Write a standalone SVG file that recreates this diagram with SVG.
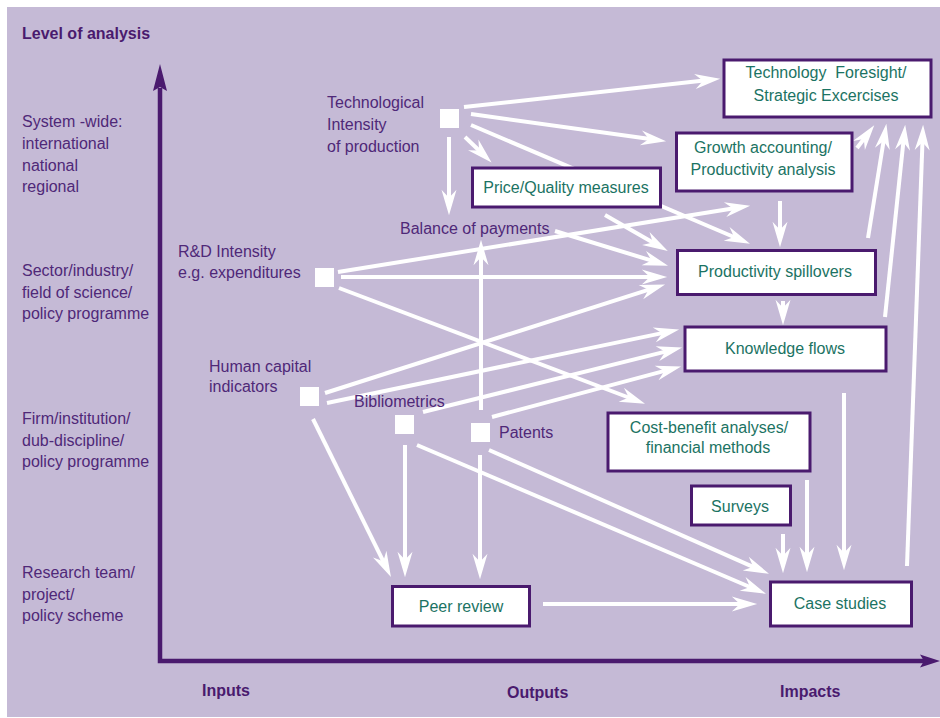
<svg xmlns="http://www.w3.org/2000/svg" width="940" height="718" viewBox="0 0 940 718">
<defs>
<style>
.lbl{font-family:"Liberation Sans",Arial,sans-serif;font-size:16px;fill:#4f2878}
.bold{font-weight:bold;fill:#4a1a6e}
.box rect{fill:#fff;stroke:#4a1a6e;stroke-width:3}
.box text{font-family:"Liberation Sans",Arial,sans-serif;font-size:16px;fill:#1b7363;text-anchor:middle}
.sq{fill:#fff}
.con line{stroke:#fff;stroke-width:4;marker-end:url(#ah)}
</style>
<marker id="ah" markerUnits="userSpaceOnUse" markerWidth="30" markerHeight="20" viewBox="-10 -8 26 16" refX="0" refY="0" orient="auto">
<path d="M14,0 L-8,-6.5 L-1,0 L-8,6.5 Z" fill="#fff"/>
</marker>
</defs>
<rect x="0" y="0" width="940" height="718" fill="#fff"/>
<rect x="7" y="7" width="933" height="710" fill="#c5bad6"/>

<g id="axes">
<path d="M160,88 L160,661 L924,661" fill="none" stroke="#4a1a6e" stroke-width="4.5"/>
<path d="M160,64 L153,91 L160,87 L167,91 Z" fill="#4a1a6e"/>
<path d="M940,661 L920,654.5 L924,661 L920,667.5 Z" fill="#4a1a6e"/>
</g>

<g id="axis-labels">
<text class="lbl bold" x="22" y="39">Level of analysis</text>
<text class="lbl" x="22" y="127">System -wide:</text>
<text class="lbl" x="22" y="149">international</text>
<text class="lbl" x="22" y="171">national</text>
<text class="lbl" x="22" y="192">regional</text>
<text class="lbl" x="22" y="276">Sector/industry/</text>
<text class="lbl" x="22" y="298">field of science/</text>
<text class="lbl" x="22" y="319">policy programme</text>
<text class="lbl" x="22" y="424">Firm/institution/</text>
<text class="lbl" x="22" y="446">dub-discipline/</text>
<text class="lbl" x="22" y="467">policy programme</text>
<text class="lbl" x="22" y="578">Research team/</text>
<text class="lbl" x="22" y="600">project/</text>
<text class="lbl" x="22" y="621">policy scheme</text>
<text class="lbl bold" x="202" y="696">Inputs</text>
<text class="lbl bold" x="507" y="698">Outputs</text>
<text class="lbl bold" x="780" y="697">Impacts</text>
</g>

<g id="connectors" class="con">
<line x1="464" y1="107" x2="704.1" y2="80.5"/>
<line x1="471" y1="114" x2="650.1" y2="139.1"/>
<line x1="471" y1="125" x2="735.1" y2="237.5"/>
<line x1="465" y1="137" x2="479.9" y2="151.3"/>
<line x1="449" y1="137" x2="449" y2="199"/>
<line x1="605" y1="215" x2="653.8" y2="243"/>
<line x1="555" y1="231" x2="652.6" y2="260.9"/>
<line x1="341" y1="277" x2="651" y2="277"/>
<line x1="338" y1="272" x2="734.2" y2="208.2"/>
<line x1="339" y1="288" x2="629.9" y2="398"/>
<line x1="325" y1="393" x2="649.7" y2="289.3"/>
<line x1="327" y1="403" x2="663.3" y2="332.9"/>
<line x1="423" y1="412" x2="666.4" y2="351.4"/>
<line x1="492" y1="417" x2="665.5" y2="370.6"/>
<line x1="481" y1="410" x2="481" y2="256"/>
<line x1="780" y1="201" x2="780" y2="231"/>
<line x1="783" y1="301" x2="783" y2="309"/>
<line x1="857" y1="148" x2="864.5" y2="138.1"/>
<line x1="868" y1="238" x2="883.8" y2="139.8"/>
<line x1="885" y1="317" x2="903.5" y2="140.9"/>
<line x1="907" y1="566" x2="922.5" y2="141"/>
<line x1="844" y1="393" x2="844" y2="554"/>
<line x1="807" y1="480" x2="807" y2="556"/>
<line x1="783" y1="534" x2="783" y2="557"/>
<line x1="543" y1="604" x2="741" y2="604"/>
<line x1="489" y1="450" x2="754.2" y2="567.3"/>
<line x1="417" y1="445" x2="751.1" y2="587.5"/>
<line x1="313" y1="419" x2="383.8" y2="562.4"/>
<line x1="405" y1="445" x2="405" y2="561"/>
<line x1="480" y1="455" x2="480" y2="563"/>
</g>

<g id="tech-intensity">
<rect class="sq" x="440" y="109" width="19" height="19"/>
<text class="lbl" x="327" y="108">Technological</text>
<text class="lbl" x="327" y="130">Intensity</text>
<text class="lbl" x="327" y="152">of production</text>
</g>
<g id="rd-intensity">
<rect class="sq" x="315" y="268" width="19" height="19"/>
<text class="lbl" x="178" y="257">R&amp;D Intensity</text>
<text class="lbl" x="178" y="278">e.g. expenditures</text>
</g>
<g id="human-capital">
<rect class="sq" x="300" y="387" width="19" height="19"/>
<text class="lbl" x="209" y="372">Human capital</text>
<text class="lbl" x="209" y="392">indicators</text>
</g>
<g id="bibliometrics">
<rect class="sq" x="395" y="415" width="19" height="19"/>
<text class="lbl" x="354" y="407">Bibliometrics</text>
</g>
<g id="patents">
<rect class="sq" x="471" y="423" width="19" height="19"/>
<text class="lbl" x="499" y="438">Patents</text>
</g>
<g id="balance-of-payments">
<text class="lbl" x="400" y="234">Balance of payments</text>
</g>

<g id="technology-foresight" class="box">
<rect x="724" y="60" width="207" height="57"/>
<text x="826" y="78" xml:space="preserve">Technology  Foresight/</text>
<text x="826" y="101">Strategic Excercises</text>
</g>
<g id="growth-accounting" class="box">
<rect x="676.5" y="133" width="175.5" height="58"/>
<text x="763" y="153">Growth accounting/</text>
<text x="763" y="175">Productivity analysis</text>
</g>
<g id="price-quality" class="box">
<rect x="472.5" y="168" width="188" height="39"/>
<text x="566" y="193">Price/Quality measures</text>
</g>
<g id="productivity-spillovers" class="box">
<rect x="677.5" y="250.5" width="198" height="44"/>
<text x="775" y="277">Productivity spillovers</text>
</g>
<g id="knowledge-flows" class="box">
<rect x="685" y="327" width="201" height="44"/>
<text x="785" y="354">Knowledge flows</text>
</g>
<g id="cost-benefit" class="box">
<rect x="608" y="413" width="202" height="58"/>
<text x="709" y="433">Cost-benefit analyses/</text>
<text x="708" y="453">financial methods</text>
</g>
<g id="surveys" class="box">
<rect x="691.5" y="486" width="99" height="39"/>
<text x="740" y="512">Surveys</text>
</g>
<g id="case-studies" class="box">
<rect x="770.5" y="582" width="141" height="44"/>
<text x="840" y="609">Case studies</text>
</g>
<g id="peer-review" class="box">
<rect x="392.5" y="586.5" width="137" height="39.5"/>
<text x="461" y="612">Peer review</text>
</g>
</svg>
